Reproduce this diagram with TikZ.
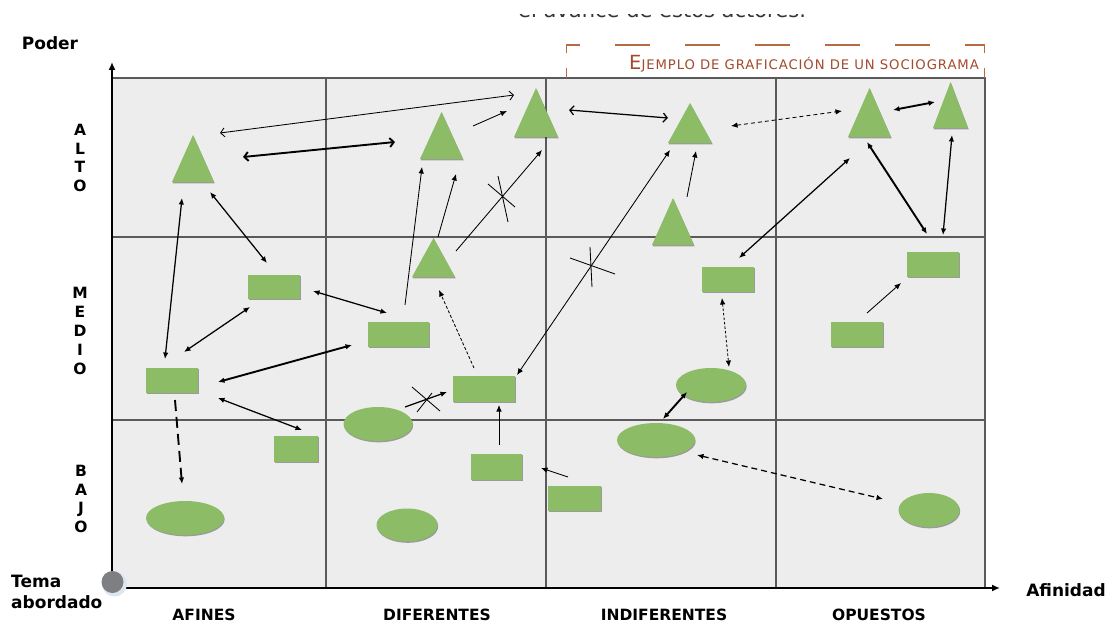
\documentclass[tikz,border=0pt]{standalone}
\usepackage{fontspec}
\setmainfont{DejaVu Sans}
\usetikzlibrary{arrows.meta,shapes.geometric,shadows,calc}
\definecolor{grn}{HTML}{8CBC66}
\definecolor{bggray}{HTML}{EDEDED}
\definecolor{gline}{HTML}{5A5A5A}
\definecolor{brn}{HTML}{A34A2C}
\definecolor{brnbox}{HTML}{B86A45}
\definecolor{orgray}{HTML}{7E7F83}
\definecolor{orring}{HTML}{DCE6F0}
\begin{document}
\begin{tikzpicture}[x=1pt,y=-1pt,
  shp/.style={fill=grn, drop shadow={shadow xshift=0.7pt,shadow yshift=-1.3pt,opacity=0.35,fill=black}},
  tb/.style={inner sep=0pt,outer sep=0pt},
  rb/.style={shp,rectangle,inner sep=0pt,outer sep=0pt},
  eb/.style={shp,ellipse,inner sep=0pt,outer sep=0pt},
  gridline/.style={draw=gline,line width=1.5pt},
  myF/.tip={Latex[length=6.5pt,width=5.5pt]},
  myO/.tip={Straight Barb[length=4pt,width=9pt]},
  both/.style={myF-myF},
  one/.style={-myF},
  oboth/.style={myO-myO},
  c1/.style={line width=0.85pt,black},
  c2/.style={line width=1.25pt,black},
  c3/.style={line width=1.9pt,black},
  axlab/.style={font=\bfseries\fontsize{15.5}{18.8}\selectfont,align=center,inner sep=0pt},
  xlab/.style={font=\bfseries\fontsize{15.5}{18}\selectfont,inner sep=0pt},
  blab/.style={font=\bfseries\fontsize{17}{20}\selectfont,inner sep=0pt}
]
\useasboundingbox (0,0) rectangle (1116,626);
\fill[white] (0,0) rectangle (1116,626);

% cut-off text line at the top (only its lower edge shows)
\node[anchor=base west,inner sep=0pt,font=\fontsize{21}{24}\selectfont,text=black!80] (toptext) at (518,17.5) {el avance de estos actores.};
\fill[white] (470,-5) rectangle (890,13.8);

% grid
\fill[bggray] (112,78) rectangle (985,588);
\draw[brnbox,line width=1.2pt,dash pattern=on 35pt off 35pt,dash phase=21pt] (566,78) -- (985,78);
\draw[gridline] (112,78) -- (985,78) -- (985,588);
\foreach \xx in {326,546,776} \draw[gridline] (\xx,78) -- (\xx,588);
\foreach \yy in {237,420} \draw[gridline] (112,\yy) -- (985,\yy);

% title box
\draw[brnbox,line width=1.2pt,dash pattern=on 35pt off 35pt,dash phase=21pt] (566,45) -- (985,45);
\draw[brnbox,line width=1.2pt] (566.6,45) -- (566.6,53) (566.6,68) -- (566.6,78);
\draw[brnbox,line width=1.2pt] (984.4,45) -- (984.4,53) (984.4,68) -- (984.4,78);
\node[anchor=base east,inner sep=0pt,text=brn] (title) at (979,70)
  {\fontsize{19.5}{20}\selectfont E\fontsize{13.2}{14}\selectfont\addfontfeatures{LetterSpace=7}JEMPLO DE GRAFICACIÓN DE UN SOCIOGRAMA};

% triangles (boxes + drawn triangles)
\node[tb,minimum width=42pt,minimum height=47pt] (T1) at (193,158.5) {};
\node[tb,minimum width=43pt,minimum height=47pt] (T2) at (441.5,135.5) {};
\node[tb,minimum width=44pt,minimum height=49pt] (T3) at (536,112.5) {};
\node[tb,minimum width=44pt,minimum height=40pt] (T4) at (690,123) {};
\node[tb,minimum width=43pt,minimum height=39pt] (T5) at (433.5,257.5) {};
\node[tb,minimum width=42pt,minimum height=47pt] (T6) at (673,221.5) {};
\node[tb,minimum width=43pt,minimum height=49pt] (T7) at (869.5,112.5) {};
\node[tb,minimum width=35pt,minimum height=46pt] (T8) at (950.5,105) {};
\foreach \t in {T1,T2,T3,T4,T5,T6,T7,T8}
  \fill[shp] (\t.south west) -- (\t.north) -- (\t.south east) -- cycle;

% rectangles
\node[rb,minimum width=52pt,minimum height=24pt] (R1) at (274,287) {};
\node[rb,minimum width=52pt,minimum height=25pt] (R2) at (172,380.5) {};
\node[rb,minimum width=44pt,minimum height=26pt] (R3) at (296,449) {};
\node[rb,minimum width=51pt,minimum height=26pt] (R4) at (496.5,467) {};
\node[rb,minimum width=53pt,minimum height=25pt] (R5) at (574.5,498.5) {};
\node[rb,minimum width=61pt,minimum height=25pt] (R6) at (398.5,334.5) {};
\node[rb,minimum width=62pt,minimum height=26pt] (R7) at (484,389) {};
\node[rb,minimum width=52pt,minimum height=25pt] (R8) at (728,279.5) {};
\node[rb,minimum width=52pt,minimum height=25pt] (R9) at (933,264.5) {};
\node[rb,minimum width=52pt,minimum height=25pt] (R10) at (857,334.5) {};

% ellipses
\node[eb,minimum width=78pt,minimum height=34pt] (E1) at (185,518) {};
\node[eb,minimum width=69pt,minimum height=34pt] (E2) at (378,424) {};
\node[eb,minimum width=61pt,minimum height=33pt] (E3) at (407,525) {};
\node[eb,minimum width=70pt,minimum height=34pt] (E4) at (711,385) {};
\node[eb,minimum width=78pt,minimum height=34pt] (E5) at (656,440) {};
\node[eb,minimum width=61pt,minimum height=34pt] (E6) at (929,510) {};

% connectors
\draw[c1,oboth] ([shift={(27,-25.5)}]T1.center) -- ([shift={(-22,-17.5)}]T3.center);
\draw[c3,oboth] ([shift={(50,-1.5)}]T1.center) -- ([shift={(-46.5,6.5)}]T2.center);
\draw[c2,both] ([shift={(17,33.5)}]T1.center) -- ([shift={(-7,-24)}]R1.center);
\draw[c2,both] ([shift={(-11,39.5)}]T1.center) -- ([shift={(-7,-21.5)}]R2.center);
\draw[c2,both] ([shift={(-24,20)}]R1.center) -- ([shift={(12,-28.5)}]R2.center);
\draw[c2,both] ([shift={(39,4)}]R1.center) -- ([shift={(-11.5,-21.5)}]R6.center);
\draw[c3,both] ([shift={(46,1.5)}]R2.center) -- ([shift={(-46.5,10.5)}]R6.center);
\draw[c2,both] ([shift={(46,17.5)}]R2.center) -- ([shift={(6,-19)}]R3.center);
\draw[c3,one,dash pattern=on 11pt off 6pt] ([shift={(3,19.5)}]R2.center) -- ([shift={(-3,-34)}]E1.center);
\draw[c1,one] ([shift={(31.5,-9.5)}]T2.center) -- ([shift={(-29,-1.5)}]T3.center);
\draw[c1,one] ([shift={(6.5,-29.5)}]R6.center) -- ([shift={(-19.5,31.5)}]T2.center);
\draw[c1,one] ([shift={(4.5,-20.5)}]T5.center) -- ([shift={(14.5,38.5)}]T2.center);
\draw[c1,one] ([shift={(22.5,-6.5)}]T5.center) -- ([shift={(6,37.5)}]T3.center);
\draw[c1,one,dash pattern=on 3pt off 2pt] ([shift={(-10,-21)}]R7.center) -- ([shift={(5.5,32.5)}]T5.center);
\draw[c1,both] ([shift={(33,-14)}]R7.center) -- ([shift={(-20,27)}]T4.center);
\draw[c1,one] ([shift={(14,-24.5)}]T6.center) -- ([shift={(6,28)}]T4.center);
\draw[c2,oboth] ([shift={(33,-2.5)}]T3.center) -- ([shift={(-22,-5)}]T4.center);
\draw[c2,one] ([shift={(27,-17)}]E2.center) -- ([shift={(-37,3)}]R7.center);
\draw[c1,one] ([shift={(2.5,-22)}]R4.center) -- ([shift={(15,16)}]R7.center);
\draw[c1,one] ([shift={(-6.5,-21.5)}]R5.center) -- ([shift={(44.5,1)}]R4.center);
\draw[c3,both] ([shift={(7,-21)}]E5.center) -- ([shift={(-24,7)}]E4.center);
\draw[c2,both,dash pattern=on 6pt off 4pt] ([shift={(41,15)}]E5.center) -- ([shift={(-46,-11)}]E6.center);
\draw[c1,both,dash pattern=on 4pt off 3pt] ([shift={(41,3)}]T4.center) -- ([shift={(-27.5,-1.5)}]T7.center);
\draw[c3,both] ([shift={(23.5,-2.5)}]T7.center) -- ([shift={(-15.5,-3)}]T8.center);
\draw[c2,both] ([shift={(11,-21.5)}]R8.center) -- ([shift={(-19.5,45.5)}]T7.center);
\draw[c3,both] ([shift={(-2.5,29.5)}]T7.center) -- ([shift={(-6,-30.5)}]R9.center);
\draw[c2,both] ([shift={(10,-29.5)}]R9.center) -- ([shift={(1.5,30)}]T8.center);
\draw[c1,one] ([shift={(10,-21.5)}]R10.center) -- ([shift={(-32,18.5)}]R9.center);
\draw[c1,both,dash pattern=on 2.5pt off 2pt] ([shift={(-6,18.5)}]R8.center) -- ([shift={(18,-18)}]E4.center);

% crosses on blocked links
\coordinate (X1) at (502,195);
\draw[c1] ([shift={(-4,-19)}]X1) -- ([shift={(6,27)}]X1);
\draw[c1] ([shift={(-14,-11)}]X1) -- ([shift={(13,12)}]X1);
\coordinate (X2) at (591,266);
\draw[c1] ([shift={(-1,-19)}]X2) -- ([shift={(1,21)}]X2);
\draw[c1] ([shift={(-21,-8)}]X2) -- ([shift={(24,8)}]X2);
\coordinate (X3) at (426,399);
\draw[c1] ([shift={(-14,-12)}]X3) -- ([shift={(14,12)}]X3);
\draw[c1] ([shift={(-9,13)}]X3) -- ([shift={(6,-6)}]X3);

% axes
\draw[line width=2.6pt,-{Latex[length=8pt,width=7pt]}] (112,589) -- (112,62);
\draw[line width=2.6pt,-{Latex[length=8pt,width=7pt]}] (111,588) -- (1000,588);
\fill[orring] (114.5,584) circle (12.5);
\node[circle,fill=orgray,minimum size=22pt,inner sep=0pt] (org) at (112.5,582) {};

% labels
\node[blab] (poder) at (50,43) {Poder};
\node[axlab] (alto) at (80,158) {A\\L\\T\\O};
\node[axlab] (medio) at (80,331) {M\\E\\D\\I\\O};
\node[axlab] (bajo) at (81,499) {B\\A\\J\\O};
\node[blab,anchor=west] (tema) at (11,581) {Tema};
\node[blab,anchor=west] (abord) at (11,602) {abordado};
\node[blab] (afin) at (1066,590) {Afinidad};
\node[xlab] (xa) at (204,615) {AFINES};
\node[xlab] (xb) at (437,615) {DIFERENTES};
\node[xlab] (xc) at (664,615) {INDIFERENTES};
\node[xlab] (xd) at (879,615) {OPUESTOS};
\end{tikzpicture}
\end{document}
